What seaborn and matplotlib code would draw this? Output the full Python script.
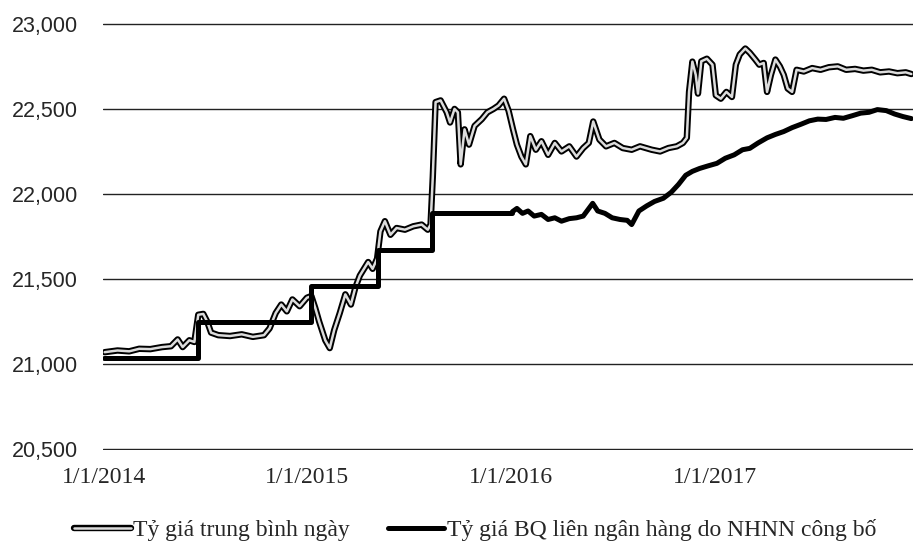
import matplotlib
matplotlib.use("Agg")
import matplotlib.pyplot as plt
import matplotlib.patheffects as pe
import matplotlib.dates as mdates
from matplotlib.lines import Line2D
from matplotlib.ticker import FuncFormatter
import seaborn as sns
import pandas as pd

# Tỷ giá trung bình ngày (daily average rate)
avg_dates = [
    "2014-01-02", "2014-01-25", "2014-02-15", "2014-03-05", "2014-03-25", "2014-04-15",
    "2014-05-01", "2014-05-13", "2014-05-22", "2014-06-03", "2014-06-12", "2014-06-19",
    "2014-06-28", "2014-07-05", "2014-07-12", "2014-07-25", "2014-08-15", "2014-09-05",
    "2014-09-25", "2014-10-15", "2014-10-25", "2014-11-05", "2014-11-15", "2014-11-25",
    "2014-12-05", "2014-12-18", "2014-12-31", "2015-01-08", "2015-01-15", "2015-01-22",
    "2015-02-02", "2015-02-10", "2015-02-18", "2015-02-28", "2015-03-10", "2015-03-20",
    "2015-03-28", "2015-04-05", "2015-04-20", "2015-04-28", "2015-05-06", "2015-05-12",
    "2015-05-20", "2015-05-30", "2015-06-10", "2015-06-25", "2015-07-10", "2015-07-25",
    "2015-08-05", "2015-08-10", "2015-08-14", "2015-08-19", "2015-08-28", "2015-09-08",
    "2015-09-14", "2015-09-22", "2015-09-28", "2015-10-03", "2015-10-10", "2015-10-18",
    "2015-10-28", "2015-11-10", "2015-11-20", "2015-12-01", "2015-12-10", "2015-12-20",
    "2015-12-28", "2016-01-05", "2016-01-12", "2016-01-20", "2016-01-28", "2016-02-05",
    "2016-02-15", "2016-02-25", "2016-03-08", "2016-03-20", "2016-04-01", "2016-04-15",
    "2016-04-28", "2016-05-10", "2016-05-20", "2016-05-28", "2016-06-08", "2016-06-20",
    "2016-07-05", "2016-07-20", "2016-08-05", "2016-08-20", "2016-09-10", "2016-09-25",
    "2016-10-10", "2016-10-25", "2016-11-05", "2016-11-12", "2016-11-16", "2016-11-22",
    "2016-11-28", "2016-12-02", "2016-12-08", "2016-12-18", "2016-12-28", "2017-01-03",
    "2017-01-12", "2017-01-22", "2017-02-01", "2017-02-08", "2017-02-15", "2017-02-25",
    "2017-03-05", "2017-03-15", "2017-03-22", "2017-03-30", "2017-04-05", "2017-04-12",
    "2017-04-20", "2017-04-28", "2017-05-05", "2017-05-12", "2017-05-20", "2017-05-28",
    "2017-06-10", "2017-06-25", "2017-07-10", "2017-07-25", "2017-08-10", "2017-08-25",
    "2017-09-10", "2017-09-25", "2017-10-10", "2017-10-25", "2017-11-10", "2017-11-25",
    "2017-12-10", "2017-12-20",
]
avg_values = [
    21070, 21080, 21075, 21090, 21088, 21100,
    21105, 21145, 21100, 21140, 21130, 21290,
    21295, 21250, 21185, 21170, 21165, 21175,
    21160, 21170, 21210, 21300, 21350, 21310,
    21380, 21340, 21390, 21400, 21330, 21250,
    21140, 21094, 21200, 21300, 21410, 21350,
    21450, 21520, 21600, 21560, 21620, 21780,
    21840, 21760, 21800, 21790, 21810, 21820,
    21790, 21820, 22100, 22540, 22550, 22480,
    22420, 22500, 22480, 22174, 22380, 22290,
    22400, 22440, 22480, 22500, 22520, 22560,
    22490, 22380, 22290, 22220, 22174, 22340,
    22260, 22310, 22230, 22300, 22250, 22280,
    22220, 22270, 22300, 22426, 22320, 22280,
    22300, 22270, 22260, 22280, 22260, 22250,
    22270, 22280, 22300, 22330, 22600, 22778,
    22700, 22590, 22780, 22795, 22760, 22580,
    22560, 22600, 22570, 22760, 22820, 22855,
    22830, 22790, 22760, 22770, 22600, 22700,
    22790, 22750, 22700, 22620, 22600, 22730,
    22720, 22740, 22730, 22745, 22750, 22730,
    22735, 22725, 22730, 22715, 22720, 22710,
    22715, 22705,
]

# Tỷ giá BQ liên ngân hàng do NHNN công bố: stepped until 2016, daily after
step_dates = ["2014-01-01", "2014-06-19", "2015-01-07", "2015-05-07", "2015-08-12", "2016-01-04"]
step_values = [21036, 21246, 21458, 21673, 21890, 21896]

central_dates = [
    "2016-01-04", "2016-01-12", "2016-01-22", "2016-02-01", "2016-02-12", "2016-02-25",
    "2016-03-08", "2016-03-20", "2016-04-01", "2016-04-15", "2016-04-28", "2016-05-10",
    "2016-05-27", "2016-06-05", "2016-06-18", "2016-07-01", "2016-07-15", "2016-07-28",
    "2016-08-05", "2016-08-18", "2016-09-01", "2016-09-15", "2016-10-01", "2016-10-15",
    "2016-10-28", "2016-11-10", "2016-11-22", "2016-12-05", "2016-12-20", "2017-01-05",
    "2017-01-20", "2017-02-05", "2017-02-20", "2017-03-05", "2017-03-20", "2017-04-05",
    "2017-04-20", "2017-05-05", "2017-05-20", "2017-06-05", "2017-06-20", "2017-07-05",
    "2017-07-20", "2017-08-05", "2017-08-20", "2017-09-05", "2017-09-20", "2017-10-05",
    "2017-10-20", "2017-11-05", "2017-11-20", "2017-12-05", "2017-12-20",
]
central_values = [
    21896, 21915, 21886, 21900, 21870, 21880,
    21850, 21860, 21840, 21855, 21860, 21870,
    21945, 21900, 21886, 21860, 21850, 21845,
    21820, 21900, 21930, 21956, 21975, 22010,
    22056, 22110, 22133, 22150, 22165, 22180,
    22210, 22230, 22260, 22268, 22300, 22330,
    22350, 22367, 22390, 22410, 22430, 22440,
    22438, 22450, 22445, 22460, 22475, 22480,
    22496, 22490, 22470, 22455, 22443,
]

label_avg = "Tỷ giá trung bình ngày"
label_bq = "Tỷ giá BQ liên ngân hàng do NHNN công bố"
x_ticks = ["2014-01-01", "2015-01-01", "2016-01-01", "2017-01-01"]
y_ticks = [20500, 21000, 21500, 22000, 22500, 23000]

df_avg = pd.DataFrame({"date": pd.to_datetime(avg_dates), "rate": avg_values})
df_step = pd.DataFrame({"date": pd.to_datetime(step_dates), "rate": step_values})
df_central = pd.DataFrame({"date": pd.to_datetime(central_dates), "rate": central_values})

sns.set_theme(style="white")
plt.rcParams["font.family"] = ["Liberation Serif", "DejaVu Serif"]

fig = plt.figure(figsize=(9.13, 5.44), dpi=100)
ax = fig.add_axes([103 / 913, 1 - 450 / 544, 1 - 103 / 913, 427 / 544])

# hollow look of the daily series: black edge, light core
hollow = [pe.Stroke(linewidth=4.6, foreground="black"), pe.Normal()]
sns.lineplot(data=df_avg, x="date", y="rate", ax=ax, color="#dcdcdc",
             linewidth=1.8, path_effects=hollow, estimator=None, legend=False)
sns.lineplot(data=df_step, x="date", y="rate", ax=ax, color="black",
             linewidth=3.6, drawstyle="steps-post", estimator=None, legend=False)
sns.lineplot(data=df_central, x="date", y="rate", ax=ax, color="black",
             linewidth=3.6, estimator=None, legend=False)

ax.set_xlim(pd.Timestamp("2013-12-30"), pd.Timestamp("2017-12-23"))
ax.set_ylim(20495, 23005)
ax.set_yticks(y_ticks)
ax.yaxis.set_major_formatter(FuncFormatter(lambda v, p: f"{int(v):,}"))
ax.set_xticks(pd.to_datetime(x_ticks))
ax.xaxis.set_major_formatter(mdates.DateFormatter("%-m/%-d/%Y"))
ax.set_xlabel("")
ax.set_ylabel("")

ax.grid(axis="y", color="#222222", linewidth=1.0)
ax.grid(axis="x", visible=False)
for s in ax.spines.values():
    s.set_visible(False)
ax.tick_params(axis="both", length=0)
ax.tick_params(axis="y", pad=18)
ax.tick_params(axis="x", pad=12, labelsize=17)
for t in ax.get_yticklabels():
    t.set_fontfamily(["Liberation Sans", "DejaVu Sans"])
    t.set_fontsize(15.5)

handles = [
    Line2D([], [], color="#dcdcdc", linewidth=1.8, path_effects=hollow),
    Line2D([], [], color="black", linewidth=3.6),
]
fig.legend(handles, [label_avg, label_bq], loc="center", ncol=2,
           bbox_to_anchor=(475 / 913, 14 / 544), frameon=False, fontsize=17,
           handlelength=2.4, handletextpad=0.1, columnspacing=1.6, borderpad=0)

fig.savefig("out.png", dpi=100)
